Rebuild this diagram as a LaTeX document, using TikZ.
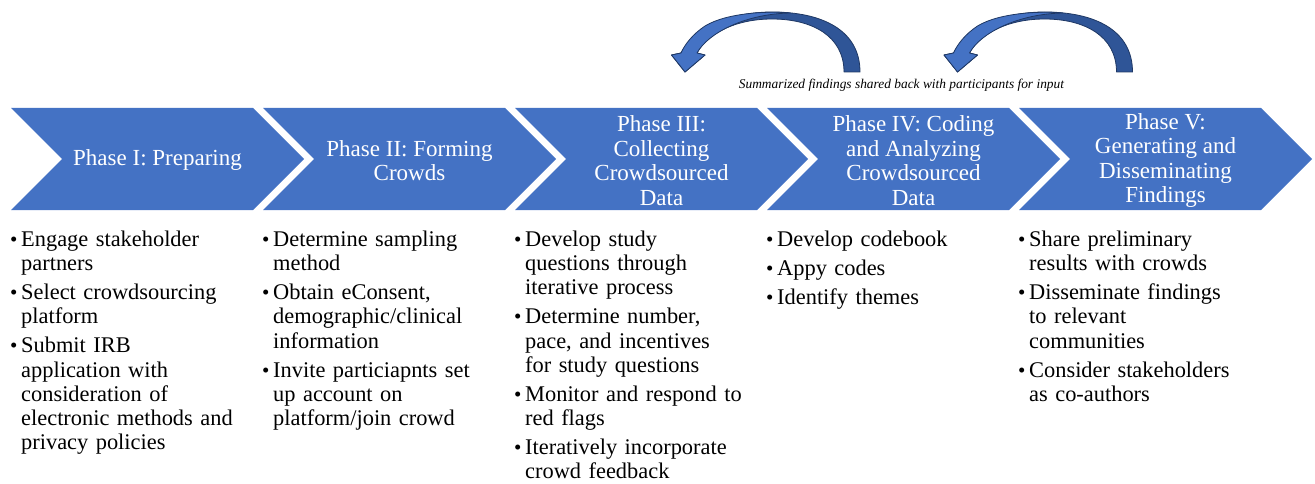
\documentclass[tikz,border=0pt]{standalone}
\usepackage{fontspec}
\setmainfont{Liberation Serif}
\definecolor{chev}{HTML}{4472C4}
\definecolor{arrlight}{HTML}{4472C4}
\definecolor{arrdark}{HTML}{2F5597}
\definecolor{arrline}{HTML}{1F3864}
\newcommand\mybul{\makebox[11pt][l]{\fontsize{21}{21}\selectfont\textbullet}}
\newcommand\bitem[1]{\par\hangindent=11pt\hangafter=1\noindent\strut\mybul{\let\\\newline#1}\par}
\newcommand\colstart{\setlength{\parskip}{4.7pt}}
\begin{document}
\begin{tikzpicture}[x=1pt,y=-1pt,
  phasetext/.style={text=white, align=center, inner sep=0pt, font=\fontsize{23}{24.5}\selectfont},
  coltext/.style={anchor=north west, text width=240pt, inner sep=0pt, align=left, font=\fontsize{22.4}{24.3}\selectfont},
  arrowfill/.style={draw=arrline, line width=0.8pt, line join=round}]
\useasboundingbox (0,0) rectangle (1315,484);

% chevrons
\foreach \i/\txt in {1/{Phase I: Preparing},
                     2/{Phase II: Forming\\Crowds},
                     3/{Phase III:\\Collecting\\Crowdsourced\\Data},
                     4/{Phase IV: Coding\\and Analyzing\\Crowdsourced\\Data},
                     5/{Phase V:\\Generating and\\Disseminating\\Findings}}{
  \pgfmathsetmacro\s{11+252*(\i-1)}
  \fill[chev] (\s,108) -- (\s+242,108) -- (\s+293,159) -- (\s+242,210) -- (\s,210) -- (\s+51,159) -- cycle;
  \node[phasetext] (phase\i) at (\s+146.5,160.5) {\txt};
}

% bullet columns
\node[coltext] (col1) at (10,217) {\colstart
  \bitem{Engage stakeholder\\partners}
  \bitem{Select crowdsourcing\\platform}
  \bitem{Submit IRB\\application with\\consideration of\\electronic methods and\\privacy policies}};
\node[coltext] (col2) at (262,217) {\colstart
  \bitem{Determine sampling\\method}
  \bitem{Obtain eConsent,\\demographic/clinical\\information}
  \bitem{Invite particiapnts set\\up account on\\platform/join crowd}};
\node[coltext] (col3) at (514,217) {\colstart
  \bitem{Develop study\\questions through\\iterative process}
  \bitem{Determine number,\\pace, and incentives\\for study questions}
  \bitem{Monitor and respond to\\red flags}
  \bitem{Iteratively incorporate\\crowd feedback}};
\node[coltext] (col4) at (766,217) {\colstart
  \bitem{Develop codebook}
  \bitem{Appy codes}
  \bitem{Identify themes}};
\node[coltext] (col5) at (1018,217) {\colstart
  \bitem{Share preliminary\\results with crowds}
  \bitem{Disseminate findings\\to relevant\\communities}
  \bitem{Consider stakeholders\\as co-authors}};

% curved feedback arrows
\foreach \dx in {0,272.5}{
  \begin{scope}[xshift=\dx pt]
    \path[arrowfill, fill=arrdark]
      (860,72) .. controls (860,30) and (822,12) .. (772,12)
      .. controls (728,12) and (693,30) .. (681,53)
      -- (671.5,55) -- (685,72) -- (705,55) -- (697,53)
      .. controls (707,34) and (735,19) .. (772,19)
      .. controls (812,19) and (844,36) .. (844,72) -- cycle;
    \path[arrowfill, fill=arrlight]
      (790,13) .. controls (772,11) and (728,12) .. (705,26)
      .. controls (693,34) and (685,44) .. (681,53)
      -- (671.5,55) -- (685,72) -- (705,55) -- (697,53)
      .. controls (708,33) and (745,14) .. (790,13) -- cycle;
  \end{scope}
}
\node[inner sep=0pt] (caption) at (901.5,85) {\itshape\fontsize{13.4}{15}\selectfont Summarized findings shared back with participants for input};
\end{tikzpicture}
\end{document}
